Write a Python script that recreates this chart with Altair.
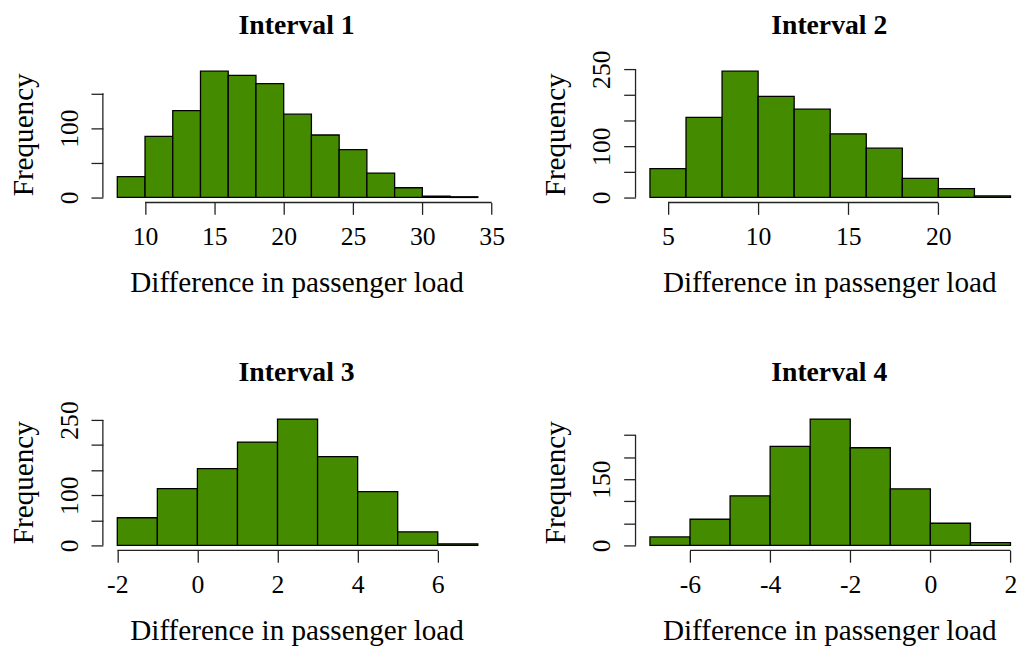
import altair as alt
import pandas as pd

# ---- data ----
titles = ["Interval 1", "Interval 2", "Interval 3", "Interval 4"]
bin_starts = [8, 4, -2, -7]
bin_widths = [2, 2, 1, 1]

counts_1 = [30, 88, 125, 182, 176, 164, 120, 90, 69, 35, 14, 2, 1]
counts_2 = [56, 156, 246, 197, 172, 124, 96, 37, 17, 3]
counts_3 = [55, 113, 153, 206, 252, 177, 107, 27, 3]
counts_4 = [19, 59, 112, 224, 286, 221, 128, 50, 6]

x_ticks_1 = [10, 15, 20, 25, 30, 35]
x_ticks_2 = [5, 10, 15, 20]
x_ticks_3 = [-2, 0, 2, 4, 6]
x_ticks_4 = [-6, -4, -2, 0, 2]

y_ticks_1 = [0, 50, 100, 150]
y_ticks_2 = [0, 50, 100, 150, 200, 250]
y_ticks_3 = [0, 50, 100, 150, 200, 250]
y_ticks_4 = [0, 50, 100, 150, 200, 250]

y_labels_1 = [0, 100]
y_labels_2 = [0, 100, 250]
y_labels_3 = [0, 100, 250]
y_labels_4 = [0, 150]

x_title = "Difference in passenger load"
y_title = "Frequency"

FONT = "Liberation Serif"
GREEN = "#458B00"
AXIS_COLOR = "#222222"
W, H = 394, 138
W_RIGHT = 383
ROW_GAP = 214


def panel(title, start, width, counts, xticks, yticks, ylabels, w):
    n = len(counts)
    x0 = [start + i * width for i in range(n)]
    x1 = [start + (i + 1) * width for i in range(n)]
    lo, hi = x0[0], x1[-1]
    pad = 0.04 * (hi - lo)
    dlo = lo - pad
    dhi = dlo + (hi + pad - dlo) * w / W
    ymax = max(counts)
    xscale = alt.Scale(domain=[dlo, dhi], nice=False, zero=False)
    yscale = alt.Scale(domain=[-0.04 * ymax, 1.04 * ymax], nice=False, zero=False)

    shown = "[" + ",".join(str(v) for v in ylabels) + "]"
    xaxis = alt.Axis(
        values=xticks, domain=False, grid=False, ticks=True, tickSize=12,
        tickWidth=1.3, tickColor=AXIS_COLOR,
        labelFont=FONT, labelFontSize=26, labelColor="black",
        labelBaseline="alphabetic", labelAlign="center", labelPadding=31,
        labelOverlap=False, labelFlush=False, labelBound=False,
        labelExpr="datum.value + ''",
        title=x_title, titleFont=FONT, titleFontSize=29.5, titleFontWeight="normal",
        titleColor="black", titleBaseline="alphabetic", titleAlign="center",
        titleX=196, titleY=90,
    )
    yaxis = alt.Axis(
        values=yticks, domain=False, grid=False, ticks=True, tickSize=12,
        tickWidth=1.3, tickColor=AXIS_COLOR,
        labelFont=FONT, labelFontSize=26, labelColor="black", labelAngle=270,
        labelBaseline="alphabetic", labelAlign="center", labelPadding=14,
        labelOverlap=False, labelFlush=False, labelBound=False,
        labelExpr="indexof(" + shown + ", datum.value) >= 0 ? datum.value + '' : ''",
        title=y_title, titleFont=FONT, titleFontSize=29.5, titleFontWeight="normal",
        titleColor="black", titleBaseline="alphabetic", titleAlign="center",
        titleAngle=270, titleX=-71.5, titleY=H / 2,
    )

    df = pd.DataFrame({"x0": x0, "x1": x1, "count": counts})
    bars = alt.Chart(df).mark_rect(fill=GREEN, stroke="black", strokeWidth=1.3).encode(
        x=alt.X("x0:Q", scale=xscale, axis=xaxis),
        x2="x1:Q",
        y=alt.Y("count:Q", scale=yscale, axis=yaxis),
        y2=alt.datum(0),
    )

    xl = pd.DataFrame({"x0": [xticks[0]], "x1": [xticks[-1]]})
    xline = alt.Chart(xl).mark_rule(color=AXIS_COLOR, strokeWidth=1.3).encode(
        x=alt.X("x0:Q", scale=xscale, axis=xaxis),
        x2="x1:Q",
        y=alt.value(H),
    )
    yl = pd.DataFrame({"count": [yticks[0]], "c2": [yticks[-1]]})
    yline = alt.Chart(yl).mark_rule(color=AXIS_COLOR, strokeWidth=1.3).encode(
        y=alt.Y("count:Q", scale=yscale, axis=yaxis),
        y2="c2:Q",
        x=alt.value(0),
    )
    tdf = pd.DataFrame({"t": [title]})
    ttl = alt.Chart(tdf).mark_text(
        font=FONT, fontSize=28, fontWeight="bold", baseline="alphabetic",
        align="center", color="black",
    ).encode(x=alt.value(196), y=alt.value(-33), text="t:N")

    return alt.layer(bars, xline, yline, ttl).properties(width=w, height=H)


p1 = panel(titles[0], bin_starts[0], bin_widths[0], counts_1, x_ticks_1, y_ticks_1, y_labels_1, W)
p2 = panel(titles[1], bin_starts[1], bin_widths[1], counts_2, x_ticks_2, y_ticks_2, y_labels_2, W_RIGHT)
p3 = panel(titles[2], bin_starts[2], bin_widths[2], counts_3, x_ticks_3, y_ticks_3, y_labels_3, W)
p4 = panel(titles[3], bin_starts[3], bin_widths[3], counts_4, x_ticks_4, y_ticks_4, y_labels_4, W_RIGHT)

row1 = alt.hconcat(p1, p2, spacing=145, bounds="flush")
row2 = alt.hconcat(p3, p4, spacing=145, bounds="flush")
chart = alt.vconcat(row1, row2, spacing=H + ROW_GAP, bounds="flush").properties(
    padding={"left": 0, "top": 0, "right": 0, "bottom": 0},
).configure_view(stroke=None)

chart.save("out.html", embed_options={"renderer": "svg", "actions": False})
